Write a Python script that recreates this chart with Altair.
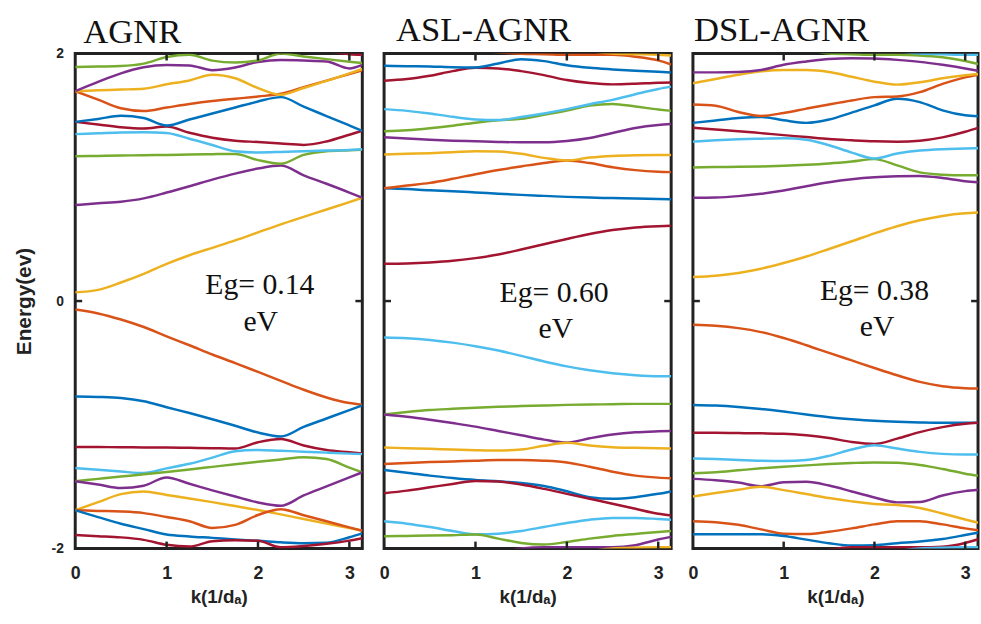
import math
import altair as alt
import pandas as pd

# ---------------- data ----------------
K = [0, 0.25, 0.5, 0.75, 1.0, 1.25, 1.5, 1.75, 2.0, 2.25, 2.5, 2.75, 3.0, 3.1416]
X_TICKS = [0, 1, 2, 3]
Y_TICKS = [-2, 0, 2]
FRAME_TICKS_K = [1, 2, 3]
FRAME_TICKS_E = [0]

B = "#0072BD"; O = "#D95319"; Yc = "#EDB120"; P = "#7E2F8E"
G = "#77AC30"; L = "#4DBEEE"; R = "#A2142F"

agnr_bands = [
    [0.07, 0.09, 0.15, 0.22, 0.30, 0.37, 0.43, 0.49, 0.555, 0.62, 0.68, 0.74, 0.80, 0.835],
    [0.776, 0.79, 0.803, 0.83, 0.877, 0.928, 0.981, 1.03, 1.071, 1.095, 1.016, 0.948, 0.877, 0.835],
    [1.171, 1.173, 1.176, 1.179, 1.181, 1.184, 1.187, 1.189, 1.139, 1.11, 1.181, 1.211, 1.219, 1.224],
    [1.349, 1.356, 1.363, 1.365, 1.358, 1.312, 1.261, 1.211, 1.201, 1.205, 1.211, 1.216, 1.221, 1.226],
    [1.448, 1.427, 1.405, 1.395, 1.41, 1.36, 1.32, 1.296, 1.285, 1.273, 1.262, 1.29, 1.344, 1.376],
    [1.448, 1.472, 1.497, 1.479, 1.418, 1.467, 1.516, 1.564, 1.613, 1.648, 1.571, 1.495, 1.419, 1.376],
    [1.696, 1.628, 1.558, 1.536, 1.564, 1.592, 1.616, 1.635, 1.653, 1.675, 1.729, 1.781, 1.835, 1.864],
    [1.696, 1.703, 1.709, 1.716, 1.752, 1.783, 1.829, 1.801, 1.721, 1.667, 1.722, 1.779, 1.84, 1.875],
    [1.696, 1.771, 1.84, 1.889, 1.907, 1.904, 1.866, 1.888, 1.932, 1.948, 1.944, 1.936, 1.88, 1.909],
    [1.891, 1.895, 1.899, 1.919, 1.972, 1.99, 1.943, 1.928, 1.944, 2.0, 1.977, 1.955, 1.934, 1.923],
    [2.4, 2.38, 2.35, 2.3, 2.25, 2.2, 2.15, 2.12, 2.1, 2.08, 2.05, 2.02, 1.995, 1.99],
    [-0.069, -0.10, -0.149, -0.21, -0.285, -0.357, -0.432, -0.501, -0.573, -0.645, -0.717, -0.779, -0.824, -0.837],
    [-0.771, -0.775, -0.784, -0.81, -0.858, -0.905, -0.955, -1.008, -1.062, -1.095, -1.017, -0.949, -0.881, -0.843],
    [-1.179, -1.18, -1.181, -1.183, -1.184, -1.186, -1.189, -1.192, -1.141, -1.115, -1.167, -1.204, -1.222, -1.232],
    [-1.349, -1.364, -1.378, -1.39, -1.352, -1.315, -1.265, -1.213, -1.203, -1.21, -1.217, -1.225, -1.233, -1.237],
    [-1.456, -1.437, -1.418, -1.40, -1.381, -1.361, -1.34, -1.319, -1.299, -1.281, -1.262, -1.277, -1.346, -1.384],
    [-1.456, -1.483, -1.511, -1.492, -1.426, -1.477, -1.53, -1.58, -1.628, -1.655, -1.571, -1.498, -1.425, -1.384],
    [-1.691, -1.625, -1.56, -1.539, -1.567, -1.595, -1.625, -1.657, -1.689, -1.724, -1.762, -1.799, -1.835, -1.856],
    [-1.691, -1.696, -1.701, -1.714, -1.745, -1.779, -1.834, -1.809, -1.729, -1.682, -1.731, -1.78, -1.829, -1.856],
    [-1.691, -1.746, -1.8, -1.843, -1.886, -1.902, -1.914, -1.927, -1.937, -1.95, -1.957, -1.953, -1.909, -1.877],
    [-1.891, -1.9, -1.91, -1.93, -1.97, -1.984, -1.941, -1.933, -1.937, -1.99, -1.98, -1.962, -1.936, -1.917],
]
agnr_colors = [Yc, P, G, L, R, B, O, Yc, P, G, R, O, B, R, L, G, P, Yc, O, B, R]

asl_bands = [
    [0.301, 0.304, 0.312, 0.325, 0.347, 0.376, 0.416, 0.459, 0.502, 0.542, 0.574, 0.595, 0.605, 0.608],
    [0.911, 0.905, 0.895, 0.888, 0.878, 0.868, 0.858, 0.85, 0.842, 0.836, 0.832, 0.828, 0.825, 0.823],
    [0.911, 0.933, 0.955, 0.988, 1.025, 1.059, 1.088, 1.116, 1.136, 1.115, 1.082, 1.058, 1.045, 1.042],
    [1.184, 1.19, 1.195, 1.203, 1.211, 1.208, 1.19, 1.157, 1.136, 1.16, 1.173, 1.179, 1.181, 1.181],
    [1.323, 1.314, 1.304, 1.296, 1.291, 1.286, 1.283, 1.283, 1.294, 1.318, 1.358, 1.398, 1.422, 1.43],
    [1.372, 1.38, 1.396, 1.417, 1.441, 1.46, 1.473, 1.505, 1.54, 1.58, 1.593, 1.572, 1.548, 1.537],
    [1.551, 1.537, 1.516, 1.489, 1.468, 1.463, 1.487, 1.516, 1.551, 1.591, 1.626, 1.671, 1.714, 1.733],
    [1.781, 1.794, 1.821, 1.858, 1.885, 1.88, 1.858, 1.826, 1.786, 1.762, 1.751, 1.756, 1.765, 1.767],
    [1.901, 1.898, 1.896, 1.89, 1.888, 1.92, 1.955, 1.939, 1.906, 1.885, 1.872, 1.861, 1.853, 1.847],
    [2.2, 2.15, 2.1, 2.06, 2.03, 2.01, 1.998, 1.995, 1.99, 1.99, 1.99, 1.975, 1.945, 1.912],
    [2.4, 2.35, 2.3, 2.25, 2.2, 2.15, 2.1, 2.07, 2.04, 2.02, 2.0, 1.995, 1.99, 1.985],
    [-0.295, -0.301, -0.314, -0.336, -0.365, -0.4, -0.443, -0.488, -0.528, -0.56, -0.584, -0.6, -0.608, -0.608],
    [-0.916, -0.897, -0.881, -0.871, -0.862, -0.855, -0.849, -0.844, -0.839, -0.836, -0.834, -0.831, -0.831, -0.831],
    [-0.916, -0.935, -0.959, -0.986, -1.015, -1.05, -1.085, -1.12, -1.144, -1.109, -1.079, -1.061, -1.053, -1.05],
    [-1.184, -1.189, -1.194, -1.2, -1.205, -1.208, -1.2, -1.17, -1.146, -1.168, -1.181, -1.186, -1.189, -1.192],
    [-1.317, -1.309, -1.301, -1.296, -1.29, -1.285, -1.285, -1.29, -1.304, -1.339, -1.379, -1.411, -1.427, -1.432],
    [-1.366, -1.387, -1.411, -1.43, -1.446, -1.457, -1.47, -1.494, -1.537, -1.585, -1.598, -1.585, -1.558, -1.539],
    [-1.553, -1.532, -1.505, -1.478, -1.454, -1.459, -1.483, -1.518, -1.558, -1.598, -1.638, -1.679, -1.719, -1.732],
    [-1.78, -1.799, -1.826, -1.858, -1.885, -1.88, -1.858, -1.826, -1.794, -1.767, -1.753, -1.753, -1.761, -1.767],
    [-1.9, -1.898, -1.895, -1.892, -1.887, -1.92, -1.955, -1.968, -1.947, -1.92, -1.898, -1.882, -1.866, -1.858],
    [-2.3, -2.25, -2.2, -2.15, -2.1, -2.05, -2.0, -1.99, -1.99, -1.99, -1.99, -1.973, -1.927, -1.906],
    [-2.4, -2.35, -2.3, -2.25, -2.2, -2.15, -2.1, -2.07, -2.04, -2.02, -2.0, -1.993, -1.99, -1.99],
]
asl_colors = [R, B, O, Yc, P, G, L, R, B, O, Yc, L, G, P, Yc, O, B, R, L, G, P, Yc]

dsl_bands = [
    [0.195, 0.205, 0.227, 0.261, 0.307, 0.36, 0.421, 0.483, 0.547, 0.605, 0.653, 0.688, 0.709, 0.715],
    [0.835, 0.837, 0.848, 0.867, 0.893, 0.928, 0.96, 0.984, 1.0, 1.008, 1.011, 0.995, 0.968, 0.96],
    [1.08, 1.083, 1.085, 1.088, 1.093, 1.101, 1.112, 1.128, 1.147, 1.096, 1.04, 1.021, 1.016, 1.016],
    [1.288, 1.299, 1.307, 1.312, 1.315, 1.304, 1.259, 1.2, 1.152, 1.192, 1.216, 1.227, 1.232, 1.235],
    [1.4, 1.387, 1.373, 1.357, 1.341, 1.325, 1.309, 1.299, 1.291, 1.288, 1.296, 1.323, 1.368, 1.4],
    [1.44, 1.459, 1.48, 1.488, 1.461, 1.44, 1.467, 1.523, 1.581, 1.635, 1.608, 1.541, 1.501, 1.493],
    [1.589, 1.579, 1.528, 1.496, 1.52, 1.555, 1.589, 1.621, 1.648, 1.653, 1.688, 1.755, 1.808, 1.829],
    [1.76, 1.795, 1.829, 1.856, 1.867, 1.867, 1.851, 1.813, 1.773, 1.749, 1.768, 1.8, 1.824, 1.835],
    [1.848, 1.848, 1.851, 1.867, 1.909, 1.936, 1.957, 1.963, 1.96, 1.949, 1.933, 1.909, 1.88, 1.861],
    [2.3, 2.25, 2.2, 2.15, 2.1, 2.04, 2.0, 1.995, 1.99, 1.99, 1.985, 1.97, 1.94, 1.915],
    [2.4, 2.35, 2.3, 2.25, 2.2, 2.15, 2.1, 2.07, 2.04, 2.02, 2.0, 1.995, 1.99, 1.99],
    [-0.192, -0.2, -0.219, -0.251, -0.299, -0.357, -0.419, -0.48, -0.541, -0.6, -0.653, -0.688, -0.704, -0.707],
    [-0.84, -0.845, -0.856, -0.872, -0.893, -0.917, -0.939, -0.955, -0.968, -0.976, -0.981, -0.984, -0.984, -0.984],
    [-1.064, -1.064, -1.067, -1.069, -1.072, -1.085, -1.107, -1.139, -1.155, -1.112, -1.059, -1.019, -0.992, -0.984],
    [-1.272, -1.277, -1.285, -1.291, -1.293, -1.285, -1.251, -1.2, -1.165, -1.192, -1.219, -1.235, -1.24, -1.24],
    [-1.392, -1.384, -1.368, -1.352, -1.339, -1.328, -1.317, -1.309, -1.304, -1.307, -1.325, -1.357, -1.395, -1.411],
    [-1.437, -1.448, -1.467, -1.496, -1.464, -1.461, -1.491, -1.539, -1.587, -1.627, -1.624, -1.571, -1.536, -1.525],
    [-1.579, -1.552, -1.525, -1.501, -1.528, -1.56, -1.592, -1.619, -1.64, -1.648, -1.672, -1.717, -1.765, -1.792],
    [-1.779, -1.787, -1.808, -1.845, -1.88, -1.883, -1.864, -1.837, -1.805, -1.779, -1.779, -1.805, -1.837, -1.853],
    [-1.885, -1.885, -1.885, -1.885, -1.899, -1.928, -1.957, -1.976, -1.973, -1.957, -1.944, -1.923, -1.891, -1.872],
    [-2.3, -2.25, -2.2, -2.15, -2.1, -2.05, -2.01, -1.99, -1.99, -1.99, -1.99, -1.985, -1.955, -1.925],
    [-2.4, -2.35, -2.3, -2.25, -2.2, -2.15, -2.1, -2.07, -2.04, -2.02, -2.0, -1.993, -1.99, -1.99],
]
dsl_colors = [Yc, P, G, L, R, B, O, Yc, P, G, L, O, B, R, L, G, P, Yc, O, B, R, L]

panel_titles = ["AGNR", "ASL-AGNR", "DSL-AGNR"]
gap_labels = ["Eg= 0.14", "Eg= 0.60", "Eg= 0.38"]
# annotation anchors (k, E) for the "Eg=" line and the "eV" line
gap_anchor = [(2.02, 0.06), (1.86, -0.005), (2.0, 0.01)]
ev_anchor = [(2.03, -0.238), (1.88, -0.30), (2.03, -0.286)]

# ---------------- styling ----------------
FRAME = "#222222"
SANS = "Liberation Sans"
SERIF = "Liberation Serif"
H = 500
WIDTHS = [290, 290, 288]
TITLE_DX = [8, 12, 1]
TITLE_OFFSET = [-3, 4, 4]


def panel(i, bands, colors, first):
    rows = []
    for b, (vals, c) in enumerate(zip(bands, colors)):
        for k, e in zip(K, vals):
            rows.append({"band": b, "k": k, "E": e, "color": c})
    df = pd.DataFrame(rows)
    w = WIDTHS[i]
    xs = alt.Scale(domain=[0, math.pi], nice=False, zero=False)
    ys = alt.Scale(domain=[-2, 2], nice=False, zero=False)

    x_axis = alt.Axis(values=X_TICKS, title="k(1/dₐ)", ticks=False, domain=False,
                      grid=False, labelFlush=False, labelOverlap=False, format="d",
                      labelFont=SANS, labelFontSize=18, labelFontWeight="bold",
                      labelColor=FRAME, labelPadding=16,
                      titleFont=SANS, titleFontSize=19, titleFontWeight="bold",
                      titleColor=FRAME, titlePadding=6)
    if first:
        y_axis = alt.Axis(values=Y_TICKS, title="Energy(ev)", ticks=False, domain=False,
                          grid=False, labelFlush=False, labelOverlap=False,
                          labelExpr="toString(datum.value)",
                          labelFont=SANS, labelFontSize=14, labelFontWeight="bold",
                          labelColor=FRAME, labelPadding=12,
                          titleFont=SANS, titleFontSize=21, titleFontWeight="bold",
                          titleColor=FRAME, titlePadding=17)
    else:
        y_axis = None

    X = lambda: alt.X("k:Q", scale=xs, axis=x_axis)
    Y = lambda: alt.Y("E:Q", scale=ys, axis=y_axis)

    lines = alt.Chart(df).mark_line(clip=True, strokeWidth=2.5, interpolate="monotone").encode(
        x=X(), y=Y(),
        color=alt.Color("color:N", scale=None, legend=None),
        detail="band:N",
    )

    ann = pd.DataFrame({
        "k": [gap_anchor[i][0], ev_anchor[i][0]],
        "E": [gap_anchor[i][1], ev_anchor[i][1]],
        "label": [gap_labels[i], "eV"],
    })
    text = alt.Chart(ann).mark_text(font=SERIF, fontSize=30, align="center",
                                    baseline="alphabetic", color="#111111").encode(
        x=X(), y=Y(), text="label:N",
    )

    tk = pd.DataFrame({"k": FRAME_TICKS_K})
    te = pd.DataFrame({"E": FRAME_TICKS_E})
    top_t = alt.Chart(tk).mark_rule(color=FRAME, strokeWidth=2.5).encode(
        x=X(), y=alt.value(0), y2=alt.value(7))
    bot_t = alt.Chart(tk).mark_rule(color=FRAME, strokeWidth=2.5).encode(
        x=X(), y=alt.value(H - 7), y2=alt.value(H))
    left_t = alt.Chart(te).mark_rule(color=FRAME, strokeWidth=2.5).encode(
        y=Y(), x=alt.value(0), x2=alt.value(7))
    right_t = alt.Chart(te).mark_rule(color=FRAME, strokeWidth=2.5).encode(
        y=Y(), x=alt.value(w - 7), x2=alt.value(w))

    return alt.layer(lines, text, top_t, bot_t, left_t, right_t).properties(
        width=w, height=H,
        title=alt.TitleParams(text=panel_titles[i], anchor="start", frame="group",
                              dx=TITLE_DX[i], offset=TITLE_OFFSET[i],
                              font=SERIF, fontSize=35, fontWeight="normal",
                              color="#111111"),
    )


chart = alt.hconcat(
    panel(0, agnr_bands, agnr_colors, True),
    panel(1, asl_bands, asl_colors, False),
    panel(2, dsl_bands, dsl_colors, False),
    spacing=12,
).configure_view(stroke=FRAME, strokeWidth=3).properties(
    padding={"left": 12, "top": 9, "right": 0, "bottom": 0},
    background="white",
)

chart.save("out.html", embed_options={"renderer": "svg", "actions": False})
